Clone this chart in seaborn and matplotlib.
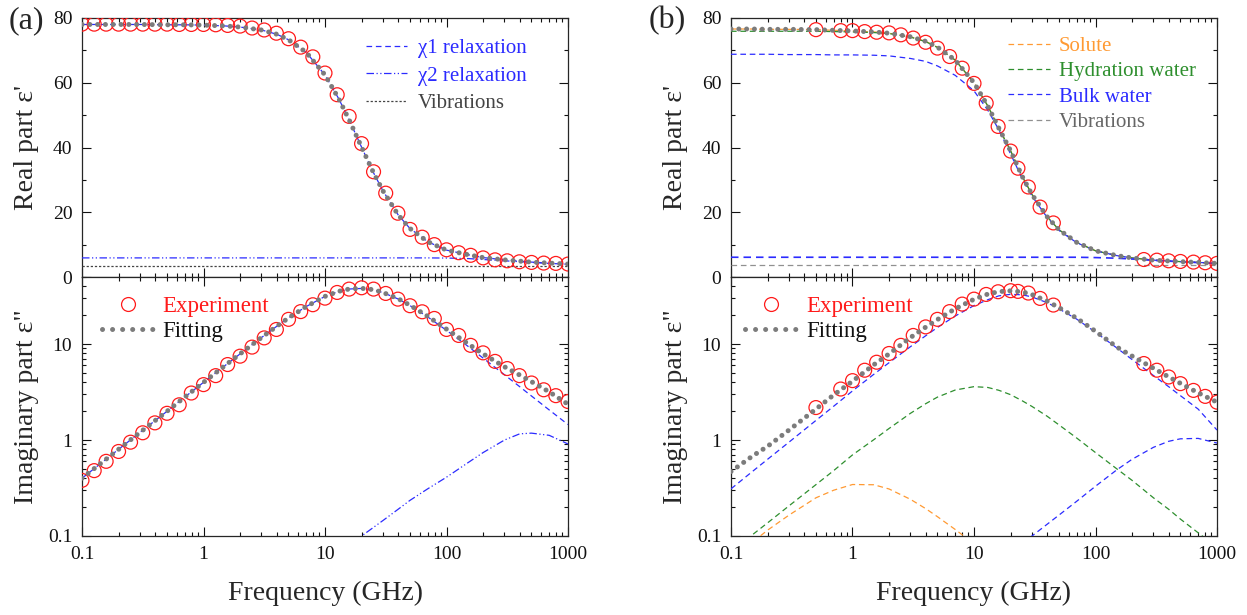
import numpy as np
import pandas as pd
import seaborn as sns
import matplotlib
matplotlib.use("Agg")
import matplotlib.pyplot as plt
from matplotlib.lines import Line2D
from matplotlib.ticker import FuncFormatter, MultipleLocator, NullFormatter, LogLocator

# ---------------- data ----------------
# (a) experiment, 10 points per decade
freq_a_exp = [0.1, 0.126, 0.158, 0.2, 0.251, 0.316, 0.398, 0.501, 0.631, 0.794,
              1.0, 1.26, 1.58, 2.0, 2.51, 3.16, 3.98, 5.01, 6.31, 7.94,
              10, 12.6, 15.8, 20, 25.1, 31.6, 39.8, 50.1, 63.1, 79.4,
              100, 126, 158, 200, 251, 316, 398, 501, 631, 794, 1000]
real_a_exp = [78.1, 78.1, 78.1, 78.1, 78.1, 78.1, 78.1, 78.1, 78.0, 78.0,
              78.0, 77.9, 77.7, 77.5, 76.9, 76.3, 75.3, 73.6, 71.0, 68.0,
              63.0, 56.3, 49.6, 41.2, 32.5, 25.9, 19.7, 14.7, 12.3, 10.0,
              8.4, 7.5, 6.7, 5.9, 5.3, 5.0, 4.7, 4.5, 4.3, 4.2, 4.0]
imag_a_exp = [0.38, 0.48, 0.60, 0.76, 0.95, 1.19, 1.51, 1.90, 2.33, 3.09,
              3.78, 4.69, 6.12, 7.48, 9.3, 11.6, 14.2, 18.1, 21.8, 25.7,
              30.1, 34.5, 37.4, 38.6, 37.4, 33.7, 29.4, 25.1, 21.7, 18.5,
              14.2, 12.3, 9.7, 8.1, 6.6, 5.56, 4.69, 3.93, 3.34, 2.9, 2.52]

# frequency grid used for the model curves
freq_fit = [0.1, 0.15, 0.2, 0.3, 0.5, 0.7, 1, 1.5, 2, 3, 4, 5, 7, 10, 13, 16, 20,
            25, 30, 40, 50, 70, 100, 150, 200, 300, 400, 500, 700, 1000]
freq_ends = [0.1, 1000]

real_a_fit = [78.0, 78.0, 78.0, 78.0, 77.9, 77.9, 77.8, 77.55, 77.2, 76.3,
              75.0, 73.3, 69.4, 62.4, 55.0, 48.1, 40.1, 32.3, 26.6, 19.2,
              15.0, 10.9, 8.3, 6.9, 6.0, 5.3, 4.9, 4.6, 4.3, 4.0]
imag_a_fit = [0.40, 0.60, 0.80, 1.20, 1.99, 2.80, 3.99, 5.96, 7.9, 11.7,
              15.3, 18.7, 24.6, 31.4, 35.5, 37.6, 38.1, 36.9, 34.5, 29.7,
              25.4, 19.5, 14.3, 10.1, 7.9, 5.8, 4.76, 4.06, 3.18, 2.36]
real_a_chi1 = real_a_fit
imag_a_chi1 = [0.40, 0.60, 0.80, 1.20, 1.99, 2.80, 3.99, 5.96, 7.9, 11.7,
               15.3, 18.7, 24.6, 31.4, 35.4, 37.5, 38.0, 36.8, 34.4, 29.5,
               25.2, 19.2, 13.9, 9.5, 7.15, 4.79, 3.6, 2.88, 2.06, 1.45]
real_a_chi2 = [5.9] * 22 + [5.85, 5.7, 5.4, 5.0, 4.75, 4.5, 4.2, 3.95]
freq_a_chi2 = [10, 15, 20, 30, 40, 50, 70, 100, 150, 200, 300, 400, 500, 700, 1000]
imag_a_chi2 = [0.05, 0.075, 0.10, 0.145, 0.19, 0.235, 0.31, 0.41, 0.58, 0.74,
               1.0, 1.16, 1.18, 1.12, 0.91]
real_a_vib = [3.5, 3.5]

# (b) experiment
freq_b_exp = [0.5, 0.8, 1.0, 1.26, 1.58, 2.0, 2.5, 3.16, 4.0, 5.0, 6.3, 8.0, 10,
              12.6, 15.8, 20, 23, 28, 35, 45, 250, 320, 400, 500, 640, 800, 1000]
real_b_exp = [76.4, 76.1, 76.1, 75.8, 75.6, 75.4, 74.8, 73.8, 72.5, 70.7, 68.1,
              64.5, 59.8, 53.7, 46.5, 38.9, 33.6, 27.8, 21.6, 16.7,
              5.4, 5.2, 5.0, 4.8, 4.6, 4.4, 4.2]
imag_b_exp = [2.18, 3.4, 4.16, 5.34, 6.47, 7.98, 9.7, 12.3, 15.1, 18.1, 21.8,
              26.1, 29.4, 32.9, 35.1, 36.0, 35.4, 34.0, 29.9, 25.5,
              6.27, 5.34, 4.54, 3.87, 3.29, 2.85, 2.48]

real_b_fit = [76.6, 76.6, 76.5, 76.5, 76.4, 76.2, 76.0, 75.7, 75.3, 74.2,
              72.8, 71.0, 67.0, 60.0, 52.8, 46.0, 39.0, 31.0, 25.5, 18.6,
              14.6, 10.7, 8.1, 6.6, 5.9, 5.2, 4.95, 4.75, 4.5, 4.2]
imag_b_fit = [0.47, 0.68, 0.86, 1.27, 2.1, 2.95, 4.1, 6.1, 7.9, 11.7,
              15.0, 18.0, 23.3, 29.3, 33.2, 35.2, 35.9, 35.0, 32.8, 28.0,
              24.0, 18.6, 13.6, 9.3, 7.5, 5.6, 4.55, 3.9, 3.1, 2.48]
real_b_sol = real_b_fit
real_b_hyd = [75.9, 75.9, 75.9, 75.9, 75.9, 75.8, 75.7, 75.5, 75.2, 74.1,
              72.7, 70.9, 67.0, 60.0, 52.8, 46.0, 39.0, 31.0, 25.5, 18.6,
              14.6, 10.7, 8.1, 6.6, 5.9, 5.2, 4.95, 4.75, 4.5, 4.2]
real_b_bulk = [68.8, 68.8, 68.8, 68.7, 68.7, 68.6, 68.6, 68.5, 68.3, 67.5,
               66.6, 65.2, 62.3, 57.5, 51.5, 45.5, 38.0, 30.3, 25.0, 18.4,
               14.4, 10.6, 8.1, 6.6, 5.9, 5.2, 4.95, 4.75, 4.5, 4.2]
real_b_bulk2 = [6.1] * 22 + [6.0, 5.8, 5.55, 5.15, 4.9, 4.7, 4.45, 4.15]
real_b_vib = [3.7, 3.7]
imag_b_bulk = [0.31, 0.47, 0.63, 0.95, 1.6, 2.25, 3.25, 4.85, 6.4, 9.4,
               12.2, 14.9, 19.6, 25.2, 29.0, 31.8, 33.0, 32.6, 31.0, 27.0,
               23.3, 18.2, 13.3, 9.1, 6.9, 4.7, 3.6, 2.9, 2.1, 1.27]
imag_b_hyd = [0.069, 0.103, 0.137, 0.206, 0.343, 0.48, 0.70, 1.01, 1.32, 1.90,
              2.39, 2.80, 3.32, 3.60, 3.53, 3.30, 2.97, 2.56, 2.24, 1.77,
              1.44, 1.05, 0.74, 0.50, 0.38, 0.25, 0.19, 0.15, 0.108, 0.076]
freq_b_sol = [0.1, 0.15, 0.2, 0.3, 0.5, 0.7, 1, 1.5, 2, 3, 4, 5, 7, 10, 13]
imag_b_sol = [0.058, 0.086, 0.115, 0.165, 0.25, 0.30, 0.344, 0.342, 0.309,
              0.241, 0.193, 0.159, 0.117, 0.083, 0.064]
freq_b_fast = [25, 30, 50, 70, 100, 150, 200, 300, 400, 500, 700, 1000]
imag_b_fast = [0.085, 0.1, 0.165, 0.23, 0.33, 0.49, 0.63, 0.84, 0.97, 1.03, 1.04, 0.93]

# ---------------- style ----------------
sns.set_style("ticks")
plt.rcParams['font.family'] = ['Liberation Serif', 'DejaVu Serif']
plt.rcParams['axes.linewidth'] = 0.9

BLUE = '#2b2bff'
RED = '#ff1a1a'
GREY = '#7c7c7c'
ORANGE = '#ff9a33'
GREEN = '#2e8f2e'
DASH = (0, (4.5, 3))
DOTS = (0, (0.01, 1.55))

W, H = 1247, 615
fig = plt.figure(figsize=(W / 100, H / 100), dpi=100)


def box(x0, ytop, ybot):
    return [x0 / W, (H - ybot) / H, 486 / W, (ybot - ytop) / H]


ax_ar = fig.add_axes(box(82, 18, 277))
ax_ai = fig.add_axes(box(82, 277, 536))
ax_br = fig.add_axes(box(731, 18, 277))
ax_bi = fig.add_axes(box(731, 277, 536))


def line(ax, x, y, color, ls, lw=0.9, z=3):
    sns.lineplot(x=x, y=y, ax=ax, color=color, linestyle=ls, linewidth=lw,
                 errorbar=None, zorder=z)


def fitline(ax, x, y):
    sns.lineplot(x=x, y=y, ax=ax, color=GREY, linestyle=DOTS, linewidth=3.6,
                 dash_capstyle='round', errorbar=None, zorder=5)


def circles(ax, x, y):
    sns.scatterplot(x=x, y=y, ax=ax, marker='o', s=100, facecolors='none',
                    edgecolor=RED, linewidth=0.9, zorder=4)


# panel (a) real
line(ax_ar, freq_fit, real_a_chi1, BLUE, DASH)
line(ax_ar, freq_fit, real_a_chi2, BLUE, (0, (6, 2, 1, 2, 1, 2)))
line(ax_ar, freq_ends, real_a_vib, '#444444', (0, (1.8, 1.5)))
circles(ax_ar, freq_a_exp, real_a_exp)
fitline(ax_ar, freq_fit, real_a_fit)

# panel (a) imaginary
line(ax_ai, freq_fit, imag_a_chi1, BLUE, DASH)
line(ax_ai, freq_a_chi2, imag_a_chi2, BLUE, (0, (6, 2, 1, 2, 1, 2)))
circles(ax_ai, freq_a_exp, imag_a_exp)
fitline(ax_ai, freq_fit, imag_a_fit)

# panel (b) real
line(ax_br, freq_fit, real_b_sol, ORANGE, DASH)
line(ax_br, freq_fit, real_b_hyd, GREEN, DASH)
line(ax_br, freq_fit, real_b_bulk, BLUE, DASH)
line(ax_br, freq_fit, real_b_bulk2, BLUE, DASH, lw=1.2)
line(ax_br, freq_ends, real_b_vib, '#909090', DASH)
circles(ax_br, freq_b_exp, real_b_exp)
fitline(ax_br, freq_fit, real_b_fit)

# panel (b) imaginary
line(ax_bi, freq_b_sol, imag_b_sol, ORANGE, DASH)
line(ax_bi, freq_fit, imag_b_hyd, GREEN, DASH)
line(ax_bi, freq_fit, imag_b_bulk, BLUE, DASH)
line(ax_bi, freq_b_fast, imag_b_fast, BLUE, DASH)
circles(ax_bi, freq_b_exp, imag_b_exp)
fitline(ax_bi, freq_fit, imag_b_fit)

fmt = FuncFormatter(lambda v, p: f'{v:g}')
for ax in (ax_ar, ax_ai, ax_br, ax_bi):
    ax.set_xscale('log')
    ax.set_xlim(0.1, 1000)
    ax.xaxis.set_major_locator(LogLocator(base=10))
    ax.xaxis.set_minor_locator(LogLocator(base=10, subs=np.arange(2, 10)))
    ax.xaxis.set_minor_formatter(NullFormatter())
    ax.xaxis.set_major_formatter(fmt)
    ax.tick_params(which='both', direction='in', top=True, right=True,
                   width=0.8, labelsize=14, colors='#111111')
    ax.tick_params(which='major', length=6.5, pad=7)
    ax.tick_params(which='minor', length=3.2)
    ax.set_xlabel('')
    for s in ax.spines.values():
        s.set_visible(True)
        s.set_linewidth(0.9)

for ax in (ax_ar, ax_br):
    ax.set_ylim(0, 80)
    ax.set_yticks([0, 20, 40, 60, 80])
    ax.yaxis.set_minor_locator(MultipleLocator(10))
    ax.tick_params(axis='x', labelbottom=False)
    ax.set_ylabel("Real part ε'", fontsize=20, va='center')
    ax.yaxis.set_label_coords(-0.115, 0.5)

for ax in (ax_ai, ax_bi):
    ax.set_yscale('log')
    ax.set_ylim(0.1, 50)
    ax.yaxis.set_major_locator(LogLocator(base=10))
    ax.yaxis.set_minor_locator(LogLocator(base=10, subs=np.arange(2, 10)))
    ax.yaxis.set_minor_formatter(NullFormatter())
    ax.yaxis.set_major_formatter(fmt)
    ax.set_ylabel('Imaginary part ε"', fontsize=20, va='center')
    ax.yaxis.set_label_coords(-0.115, 0.5)
    ax.set_xlabel('Frequency (GHz)', fontsize=20, va='center')
    ax.xaxis.set_label_coords(0.5, -0.22)

# legends
h_up_a = [Line2D([], [], color=BLUE, lw=0.9, ls=DASH),
          Line2D([], [], color=BLUE, lw=0.9, ls=(0, (6, 2, 1, 2, 1, 2))),
          Line2D([], [], color='#444444', lw=0.9, ls=(0, (1.8, 1.5)))]
ax_ar.legend(h_up_a, ['χ1 relaxation', 'χ2 relaxation', 'Vibrations'],
             loc='upper left', bbox_to_anchor=(0.584, 0.92), frameon=False,
             fontsize=15, handlelength=2.0, handletextpad=0.5,
             labelspacing=0.37, borderpad=0, borderaxespad=0,
             labelcolor=[BLUE, BLUE, '#444444'])

h_up_b = [Line2D([], [], color=ORANGE, lw=0.9, ls=DASH),
          Line2D([], [], color=GREEN, lw=0.9, ls=DASH),
          Line2D([], [], color=BLUE, lw=0.9, ls=DASH),
          Line2D([], [], color='#909090', lw=0.9, ls=DASH)]
ax_br.legend(h_up_b, ['Solute', 'Hydration water', 'Bulk water', 'Vibrations'],
             loc='upper left', bbox_to_anchor=(0.57, 0.928), frameon=False,
             fontsize=15, handlelength=2.0, handletextpad=0.45,
             labelspacing=0.27, borderpad=0, borderaxespad=0,
             labelcolor=[ORANGE, GREEN, BLUE, '#666666'])

for ax, x0 in ((ax_ai, 0.041), (ax_bi, 0.029)):
    h_lo = [Line2D([], [], ls='none', marker='o', ms=10, mfc='none', mec=RED, mew=0.9),
            Line2D([], [], color=GREY, lw=3.6, ls=(0, (0.01, 2.0)),
                   dash_capstyle='round')]
    ax.legend(h_lo, ['Experiment', 'Fitting'], loc='upper left',
              bbox_to_anchor=(x0, 0.925), frameon=False, fontsize=16.5,
              handlelength=2.3, handletextpad=0.35, labelspacing=0.15,
              borderpad=0, borderaxespad=0, labelcolor=[RED, '#111111'])

fig.text(26 / W, 1 - 21 / H, '(a)', fontsize=23, ha='center', va='center')
fig.text(667 / W, 1 - 21 / H, '(b)', fontsize=23, ha='center', va='center')

fig.savefig('out.png', dpi=100)
